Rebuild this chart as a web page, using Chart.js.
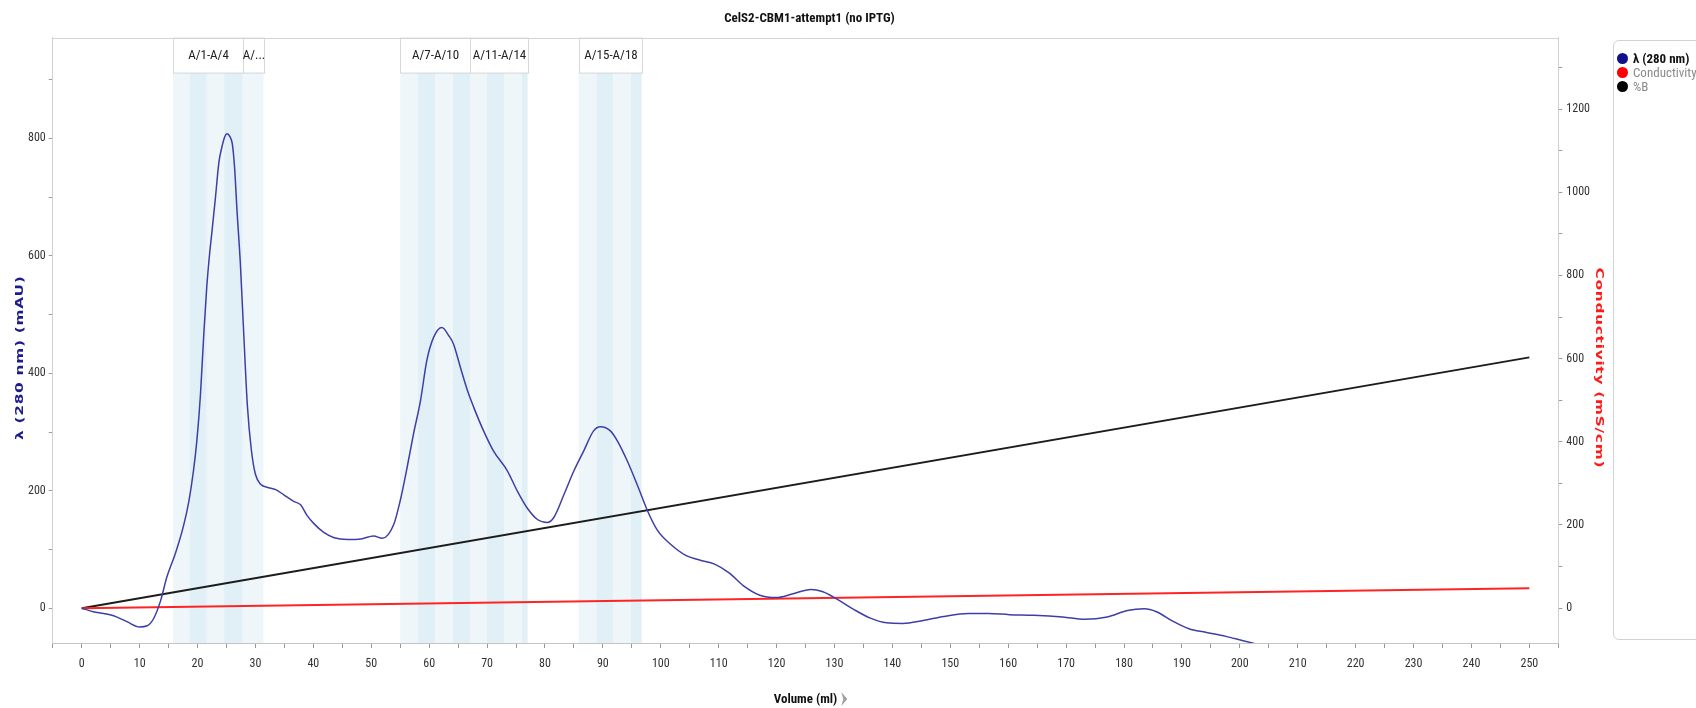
<!DOCTYPE html>
<html>
<head>
<meta charset="utf-8">
<title>CelS2-CBM1-attempt1 (no IPTG)</title>
<script src="https://cdn.jsdelivr.net/npm/chart.js@4.4.1/dist/chart.umd.min.js"></script>
<style>
  html, body { margin: 0; padding: 0; background: #fff; }
  #wrap { position: relative; width: 1696px; height: 708px; overflow: hidden; }
  #legend {
    position: absolute; left: 1613px; top: 40px; width: 120px; height: 600px;
    border: 1px solid #d2d2d2; border-radius: 6px; box-sizing: border-box;
    font-family: 'Liberation Sans Narrow', 'Roboto Condensed', Roboto, sans-serif; font-size: 13px;
    padding-top: 10px;
  }
  #legend .item { display: flex; align-items: center; height: 14px; margin-left: 3px; color: #8a8a8a; }
  #legend .item.on { color: #111; font-weight: bold; }
  #legend .dot { width: 11px; height: 11px; border-radius: 50%; margin-right: 5px; }
</style>
</head>
<body>
<div id="wrap">
  <canvas id="chrom" width="1696" height="708"></canvas>
  <div id="legend"></div>
</div>
<script>
// UV trace, 280 nm (mAU) against elution volume (ml)
const uvVolume = [0, 2, 3.8, 5.5, 7.8, 10, 11.3, 12.4, 13.6, 14.7, 16.2, 17.6, 18.5, 19.3, 19.9, 20.5,
  21.1, 21.6, 22.1, 22.5, 23.1, 23.7, 24.2, 24.7, 25.1, 25.6, 26.0, 26.4, 26.8, 27.4, 28.0, 28.6, 29.3,
  30.0, 30.9, 32.0, 33.5, 34.9, 36.6, 37.8, 38.9, 40.1, 41.8, 43.6, 45.9, 48.2, 50.4, 51.9, 53.9,
  55.0, 56.2, 57.3, 58.5, 59.6, 60.8, 62.2, 63.4, 64.2, 65.4, 66.6, 67.7, 69.4, 71.1, 73.5, 75.2,
  76.9, 78.7, 80.4, 81.5, 83.3, 85.0, 86.7, 88.4, 89.6, 91.3, 92.5, 94.2, 95.9, 97.7, 99.4, 101.8,
  104.3, 106.7, 109.3, 111.8, 114.3, 117.1, 119.9, 122.7, 125.9, 128.0, 130.5, 133.3, 136.2, 139.0,
  141.8, 145.3, 148.9, 153.1, 156.6, 160.2, 164.4, 169.4, 173.2, 177.1, 180.6, 183.5, 185.6, 188.4,
  191.2, 194.1, 197.6, 200.4, 202.5];
const uvAbs = [0, -6, -9, -13, -23, -32, -30, -18, 12, 53, 94, 141, 182, 234, 287, 363,
  470, 548, 605, 642, 700, 760, 785, 803, 808, 803, 791, 750, 680, 586, 463, 346, 269,
  228, 211, 206, 202, 193, 182, 176, 158, 144, 129, 120, 117, 118, 123, 119, 143,
  183, 240, 297, 353, 422, 462, 478, 464, 450, 410, 371, 342, 302, 268, 234, 200,
  171, 151, 146, 154, 194, 234, 268, 302, 309, 302, 285, 251, 211, 166, 133, 108,
  90, 82, 75, 60, 38, 22, 18, 24, 32, 28, 15, -2, -17, -25,
  -26, -21, -14, -9, -9, -11, -12, -15, -19, -15, -4, -1, -6, -22,
  -35, -41, -48, -55, -60];

// conductivity (mS/cm) and gradient (%B)
const condVolume = [0, 250];
const condValue = [0, 48];
const gradVolume = [0, 250];
const gradPercent = [0, 100];

// collected fractions
const fractionNumber = [1, 2, 3, 4, 5, 7, 8, 9, 10, 11, 12, 13, 14, 15, 16, 17, 18];
const fractionStart = [15.75, 18.6, 21.6, 24.6, 27.8, 55.0, 58.0, 61.1, 64.1, 67.1, 70.0, 73.0, 76.05, 85.8, 88.9, 91.8, 94.8];
const fractionEnd = [18.6, 21.6, 24.6, 27.8, 31.4, 58.0, 61.1, 64.1, 67.1, 70.0, 73.0, 76.05, 77.0, 88.9, 91.8, 94.8, 96.7];
const groupLabels = ['A/1-A/4', 'A/...', 'A/7-A/10', 'A/11-A/14', 'A/15-A/18'];
const groupStart = [15.75, 27.8, 55.0, 67.1, 85.8];
const groupEnd = [27.8, 31.4, 67.1, 77.0, 96.7];

// axis ticks
const volumeTicks = [];
for (let v = -5; v <= 255; v += 5) volumeTicks.push(v);
const uvTicks = [0, 100, 200, 300, 400, 500, 600, 700, 800, 900];
const condTicks = [0, 100, 200, 300, 400, 500, 600, 700, 800, 900, 1000, 1100, 1200, 1300];

const narrow = "'Liberation Sans Narrow', 'Roboto Condensed', Roboto, sans-serif";
const wide = "'DejaVu Sans', Verdana, sans-serif";

const uvMin = -59.3, uvMax = 971.7;
const condMin = -83.7, condMax = 1371.8;
const bFull = 603; // 100 %B sits at this conductivity-axis height

const toPoints = (xs, ys) => xs.map((x, i) => ({ x: x, y: ys[i] }));

// vertical axis title, drawn by hand so it can be stretched wide
function sideTitle(ctx, text, color, x, y, angle) {
  ctx.save();
  ctx.translate(x, y);
  ctx.rotate(angle);
  ctx.scale(1.4, 1);
  ctx.font = 'bold 11px ' + wide;
  ctx.letterSpacing = '0.5px';
  ctx.fillStyle = color;
  ctx.textAlign = 'center';
  ctx.textBaseline = 'middle';
  ctx.fillText(text, 0, 0);
  ctx.restore();
}

const fractions = {
  id: 'fractions',
  beforeDatasetsDraw(chart) {
    const { ctx, chartArea: a, scales: { x } } = chart;
    const headTop = a.top, headBottom = a.top + 35;
    ctx.save();
    fractionStart.forEach((s, i) => {
      const x0 = x.getPixelForValue(s);
      const x1 = x.getPixelForValue(fractionEnd[i]);
      ctx.fillStyle = fractionNumber[i] % 2 ? '#eef6fa' : '#e1eff6';
      ctx.fillRect(x0, headBottom, x1 - x0, a.bottom - headBottom);
    });
    ctx.font = '13px ' + narrow;
    ctx.textAlign = 'center';
    ctx.textBaseline = 'middle';
    groupLabels.forEach((label, i) => {
      const x0 = Math.round(x.getPixelForValue(groupStart[i])) + 0.5;
      const x1 = Math.round(x.getPixelForValue(groupEnd[i])) + 0.5;
      ctx.fillStyle = '#fff';
      ctx.fillRect(x0, headTop, x1 - x0, headBottom - headTop);
      ctx.strokeStyle = '#d8d8d8';
      ctx.lineWidth = 1;
      ctx.strokeRect(x0, headTop + 0.5, x1 - x0, headBottom - headTop);
      ctx.fillStyle = '#222';
      ctx.fillText(label, (x0 + x1) / 2, (headTop + headBottom) / 2 + 1);
    });
    ctx.restore();
  },
  afterDraw(chart) {
    const { ctx, chartArea: a, scales: { x } } = chart;
    ctx.save();
    // top edge of the plot frame
    ctx.strokeStyle = '#d4d4d4';
    ctx.lineWidth = 1;
    ctx.beginPath();
    ctx.moveTo(a.left, Math.round(a.top) + 0.5);
    ctx.lineTo(a.right, Math.round(a.top) + 0.5);
    ctx.stroke();
    // little arrow after the volume axis title
    ctx.font = 'bold 13px ' + narrow;
    const w = ctx.measureText('Volume (ml)').width;
    const cx = (a.left + a.right) / 2 + w / 2 + 7;
    const cy = x.bottom - 9;
    ctx.fillStyle = '#a0a0a0';
    ctx.beginPath();
    ctx.moveTo(cx - 3, cy - 7);
    ctx.lineTo(cx + 3, cy);
    ctx.lineTo(cx - 3, cy + 7);
    ctx.lineTo(cx - 1, cy);
    ctx.closePath();
    ctx.fill();
    ctx.restore();
    // side titles, centred on the trace area below the fraction headers
    const mid = (a.top + 35 + a.bottom) / 2;
    sideTitle(ctx, 'λ (280 nm) (mAU)', '#1c1c8c', a.left - 33, mid, -Math.PI / 2);
    sideTitle(ctx, 'Conductivity (mS/cm)', '#ff1a1a', a.right + 41, mid + 10, Math.PI / 2);
  }
};

Chart.defaults.font.family = narrow;
Chart.defaults.color = '#333';

const chart = new Chart(document.getElementById('chrom').getContext('2d'), {
  type: 'line',
  data: {
    datasets: [
      {
        label: 'λ (280 nm)',
        data: toPoints(uvVolume, uvAbs),
        borderColor: '#3d3fa6',
        borderWidth: 1.5,
        yAxisID: 'y',
        cubicInterpolationMode: 'monotone',
      },
      {
        label: 'Conductivity',
        data: toPoints(condVolume, condValue),
        borderColor: '#ff2424',
        borderWidth: 2,
        yAxisID: 'y1',
      },
      {
        label: '%B',
        data: toPoints(gradVolume, gradPercent),
        borderColor: '#1c1c1c',
        borderWidth: 2,
        yAxisID: 'yB',
      },
    ],
  },
  options: {
    responsive: false,
    animation: false,
    events: [],
    elements: { point: { radius: 0 } },
    layout: { padding: { left: 25, right: 102, top: 0, bottom: 0 } },
    plugins: {
      legend: { display: false },
      tooltip: { enabled: false },
      title: {
        display: true,
        text: 'CelS2-CBM1-attempt1 (no IPTG)',
        color: '#111',
        font: { size: 13, weight: 'bold' },
        padding: { top: 11, bottom: 11 },
      },
    },
    scales: {
      x: {
        type: 'linear',
        min: -5,
        max: 255,
        afterBuildTicks: axis => { axis.ticks = volumeTicks.map(v => ({ value: v })); },
        ticks: {
          autoSkip: false,
          maxRotation: 0,
          padding: 9,
          font: { size: 12 },
          callback: v => (v >= 0 && v % 10 === 0 ? v : ''),
        },
        grid: { drawOnChartArea: false, tickLength: 5, tickColor: '#9a9a9a' },
        border: { color: '#c4c4c4' },
        title: {
          display: true,
          text: 'Volume (ml)',
          color: '#111',
          font: { size: 13, weight: 'bold' },
          padding: { top: 12, bottom: 0 },
        },
      },
      y: {
        position: 'left',
        min: uvMin,
        max: uvMax,
        afterBuildTicks: axis => { axis.ticks = uvTicks.map(v => ({ value: v })); },
        ticks: {
          padding: 3,
          font: { size: 12 },
          callback: v => (v % 200 === 0 ? v : ''),
        },
        grid: { drawOnChartArea: false, tickLength: 4, tickColor: '#9a9a9a' },
        border: { color: '#d0d0d0' },
      },
      y1: {
        position: 'right',
        min: condMin,
        max: condMax,
        afterBuildTicks: axis => { axis.ticks = condTicks.map(v => ({ value: v })); },
        ticks: {
          padding: 4,
          font: { size: 12 },
          callback: v => (v % 200 === 0 ? v : ''),
        },
        grid: { drawOnChartArea: false, tickLength: 4, tickColor: '#9a9a9a' },
        border: { color: '#d0d0d0' },
      },
      yB: {
        display: false,
        min: condMin * 100 / bFull,
        max: condMax * 100 / bFull,
      },
    },
  },
  plugins: [fractions],
});

// legend box on the right
const legendColors = ['#10108c', '#ff0000', '#000000'];
const legendBox = document.getElementById('legend');
chart.data.datasets.forEach((ds, i) => {
  const item = document.createElement('div');
  item.className = 'item' + (i === 0 ? ' on' : '');
  const dot = document.createElement('span');
  dot.className = 'dot';
  dot.style.background = legendColors[i];
  item.appendChild(dot);
  item.appendChild(document.createTextNode(ds.label));
  legendBox.appendChild(item);
});
</script>
</body>
</html>
